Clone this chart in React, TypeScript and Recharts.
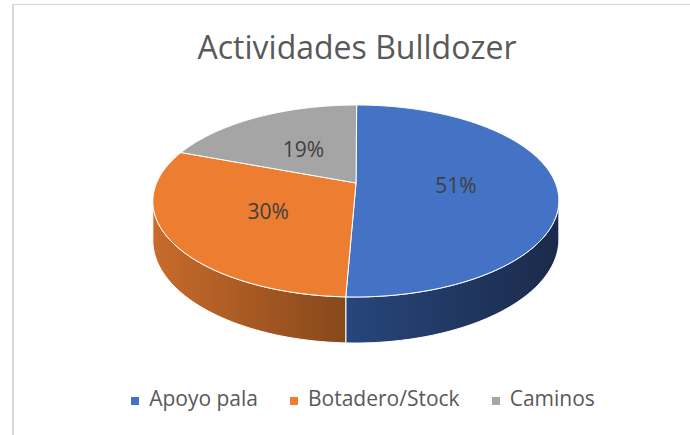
import React from 'react';
import { PieChart, Pie, Cell, Legend } from 'recharts';

const categories = ['Apoyo pala', 'Botadero/Stock', 'Caminos'];
const values = [50.6, 30.1, 19.3];
const title = 'Actividades Bulldozer';

const COLORS = ['#4472C4', '#ED7D31', '#A5A5A5'];
const SIDE_COLORS = [
  ['#27467c', '#1b2a4a'],
  ['#c86b2b', '#87481b'],
  ['#7b7b7b', '#5c5c5c'],
];

const data = categories.map((name, i) => ({ name, value: values[i] }));

// 3D projection parameters (relative to outer radius)
const TILT = 0.4644;
const PERSP = 0.1875;
const SHEAR = -0.004;
const DEPTH = 0.1876;
const SILHOUETTE = (Math.acos(-PERSP) * 180) / Math.PI; // ~100.8 deg
const FONT = '"Open Sans", "Noto Sans", sans-serif';

function proj(cx: number, cy: number, R: number, thetaDeg: number, r = 1, down = 0): [number, number] {
  const t = (thetaDeg * Math.PI) / 180;
  const X = r * Math.sin(t);
  const Z = -r * Math.cos(t);
  const w = 1 - PERSP * Z;
  return [cx + (R * (X + SHEAR * Z)) / w, cy + (R * (TILT * Z + down)) / w];
}

function arcPts(cx: number, cy: number, R: number, a: number, b: number, down = 0) {
  const n = Math.max(2, Math.ceil(Math.abs(b - a)) + 1);
  const pts: [number, number][] = [];
  for (let i = 0; i < n; i++) {
    const th = a + ((b - a) * i) / (n - 1);
    pts.push(proj(cx, cy, R, th, 1, down));
  }
  return pts;
}

const toPath = (pts: [number, number][]) =>
  pts.map((p, i) => `${i === 0 ? 'M' : 'L'}${p[0].toFixed(2)},${p[1].toFixed(2)}`).join(' ');

function Slice3D(props: any) {
  const { cx, cy, outerRadius, startAngle, endAngle, fill, index } = props;
  const R = outerRadius;
  const t1 = 90 - Math.max(startAngle, endAngle);
  const t2 = 90 - Math.min(startAngle, endAngle);
  const a = Math.max(t1, SILHOUETTE);
  const b = Math.min(t2, 360 - SILHOUETTE);
  let side = null;
  const gid = `sideGrad${index}`;
  if (b > a) {
    const top = arcPts(cx, cy, R, a, b);
    const bottom = arcPts(cx, cy, R, b, a, DEPTH);
    side = (
      <path d={toPath([...top, ...bottom]) + ' Z'} fill={`url(#${gid})`} stroke="#ffffff" strokeWidth={1} />
    );
  }
  const topFace = [[cx, cy] as [number, number], ...arcPts(cx, cy, R, t1, t2)];
  const sc = SIDE_COLORS[index % SIDE_COLORS.length];
  return (
    <g>
      <defs>
        <linearGradient id={gid} x1="0" y1="0" x2="1" y2="0">
          <stop offset="0%" stopColor={sc[0]} />
          <stop offset="100%" stopColor={sc[1]} />
        </linearGradient>
      </defs>
      {side}
      <path d={toPath(topFace) + ' Z'} fill={fill} stroke="#ffffff" strokeWidth={1} strokeLinejoin="round" />
    </g>
  );
}

function renderLabel(props: any) {
  const { cx, cy, midAngle, outerRadius, percent } = props;
  const [x, y] = proj(cx, cy, outerRadius, 90 - midAngle, 0.5);
  return (
    <text
      x={x}
      y={y + 1}
      textAnchor="middle"
      dominantBaseline="central"
      fill="#404040"
      fontSize={21}
      fontFamily={FONT}
    >
      {`${Math.round(percent * 100)}%`}
    </text>
  );
}

function LegendContent(props: any) {
  const payload = props.payload && props.payload.length ? props.payload : categories.map((c, i) => ({ value: c, color: COLORS[i] }));
  return (
    <div
      style={{
        display: 'flex',
        justifyContent: 'center',
        paddingLeft: 36,
        fontFamily: FONT,
        fontSize: 21,
        lineHeight: '20px',
        color: '#595959',
        whiteSpace: 'nowrap',
      }}
    >
      {payload.map((p: any, i: number) => (
        <span key={i} style={{ marginRight: i < payload.length - 1 ? 32 : 0 }}>
          <span
            style={{
              display: 'inline-block',
              width: 8,
              height: 8,
              background: p.color,
              marginRight: 10,
              verticalAlign: 'baseline',
              marginBottom: 1,
            }}
          />
          {p.value}
        </span>
      ))}
    </div>
  );
}

export default function App() {
  return (
    <div style={{ position: 'absolute', left: 0, top: 0, width: 690, height: 435, overflow: 'hidden', background: '#ffffff' }}>
      <div
        style={{
          position: 'absolute',
          left: 12,
          top: 4,
          width: 700,
          height: 460,
          borderLeft: '2px solid #d9d9d9',
          borderTop: '1px solid #d9d9d9',
        }}
      />
      <svg style={{ position: 'absolute', left: 0, top: 0 }} width={690} height={80}>
        <text x={357} y={59} textAnchor="middle" fontFamily={FONT} fontSize={32} fill="#595959">
          {title}
        </text>
      </svg>
      <div style={{ position: 'absolute', left: 0, top: 0 }}>
        <PieChart width={690} height={435} margin={{ top: 0, right: 0, bottom: 0, left: 0 }}>
          <Pie
            data={data}
            dataKey="value"
            nameKey="name"
            cx={356}
            cy={183}
            outerRadius={199.4}
            startAngle={90}
            endAngle={-270}
            stroke="#ffffff"
            isAnimationActive={false}
            labelLine={false}
            label={renderLabel}
            shape={Slice3D}
          >
            {data.map((d, i) => (
              <Cell key={d.name} fill={COLORS[i]} />
            ))}
          </Pie>
          <Legend content={LegendContent} wrapperStyle={{ top: 388, left: 0, width: 690, bottom: 'auto' }} />
        </PieChart>
      </div>
    </div>
  );
}
